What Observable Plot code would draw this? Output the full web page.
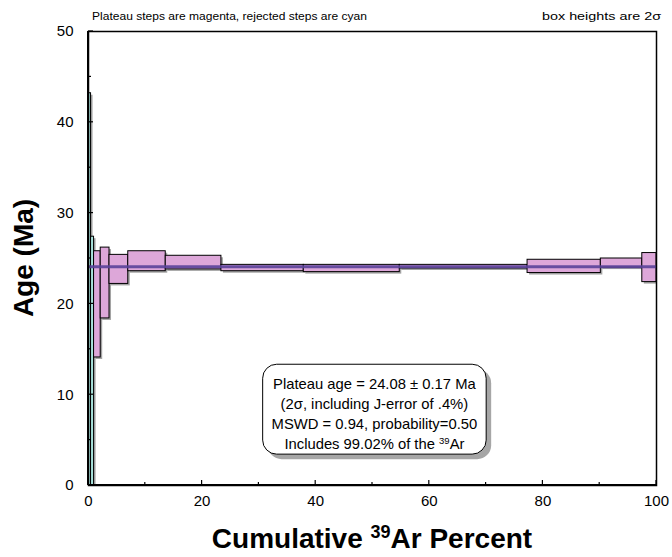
<!DOCTYPE html>
<html><head><meta charset="utf-8">
<script src="https://cdn.jsdelivr.net/npm/d3@7"></script>
<script src="https://cdn.jsdelivr.net/npm/@observablehq/plot@0.6"></script>
<style>body{margin:0;background:#fff}</style>
</head><body><div id="chart"></div>
<script>
// Step data: cumulative 39Ar % bounds, apparent age (Ma) and 2-sigma error
const cumStart = [0, 0.45, 0.98, 2.15, 3.7, 7.0, 13.6, 23.4, 37.9, 54.8, 77.3, 90.2, 97.5];
const cumEnd   = [0.45, 0.98, 2.15, 3.7, 7.0, 13.6, 23.4, 37.9, 54.8, 77.3, 90.2, 97.5, 100];
const ages     = [19.6, 12.2, 19.95, 22.3, 23.8, 24.7, 24.55, 23.95, 23.9, 24.1, 24.13, 24.5, 24.0];
const errs2s   = [23.6, 15.2, 5.85, 3.9, 1.6, 1.1, 0.75, 0.35, 0.4, 0.2, 0.73, 0.5, 1.6];
const status   = ["rejected","rejected","plateau","plateau","plateau","plateau","plateau","plateau","plateau","plateau","plateau","plateau","plateau"];
const plateauAge = 24.08;
const xTicks = [0, 20, 40, 60, 80, 100];
const xMinor = [10, 30, 50, 70, 90];
const yTicks = [0, 10, 20, 30, 40, 50];
const yMinor = [5, 15, 25, 35, 45];
const noteLines = ["Plateau age = 24.08 ± 0.17 Ma", "(2σ, including J-error of .4%)", "MSWD = 0.94, probability=0.50"];
const noteLast = ["Includes 99.02% of the ", "39", "Ar"];
const topLeftText = "Plateau steps are magenta, rejected steps are cyan";
const topRightText = "box heights are 2σ";

const colors = {plateau: "#dda7d9", rejected: "#a9e3dd"};
const steps = cumStart.map((s, i) => ({x1: s, x2: cumEnd[i], lo: ages[i] - errs2s[i], hi: ages[i] + errs2s[i], status: status[i]}));

const FONT = "'Liberation Sans', Arial, sans-serif";
const plot = Plot.plot({
  width: 672, height: 557,
  marginLeft: 88, marginRight: 16, marginTop: 31, marginBottom: 72,
  style: {fontFamily: FONT, fontSize: "14px", color: "#000", background: "#fff", overflow: "visible"},
  x: {domain: [0, 100], axis: null},
  y: {domain: [0, 50], axis: null},
  color: {type: "identity"},
  marks: [
    Plot.rect(steps, {x1: "x1", x2: "x2", y1: "lo", y2: "hi", fill: "#a3a3a3", dx: 2, dy: 2, clip: true}),
    Plot.rect(steps, {x1: "x1", x2: "x2", y1: "lo", y2: "hi", fill: d => colors[d.status], stroke: "#000", strokeWidth: 1, clip: true}),
    Plot.ruleY([plateauAge], {stroke: "#5a4299", strokeWidth: 3, strokeOpacity: 0.9}),
    Plot.frame({stroke: "#000", strokeWidth: 1.5}),
    Plot.text(xTicks, {x: d => d, text: d => String(d), frameAnchor: "bottom", lineAnchor: "top", dy: 10, fontSize: 15, fontFamily: FONT, fill: "#000"}),
    Plot.text(yTicks, {y: d => d, text: d => String(d), frameAnchor: "left", textAnchor: "end", dx: -15, fontSize: 15, fontFamily: FONT, fill: "#000"})
  ]
});

const svg = d3.select(plot);
const xs = plot.scale("x"), ys = plot.scale("y");
const X = v => xs.apply(v), Y = v => ys.apply(v);
const x0 = X(0), y0 = Y(0);

// inward ticks
const tg = svg.append("g").attr("stroke", "#000").attr("stroke-width", 1.2);
yTicks.forEach(v => tg.append("line").attr("x1", x0).attr("x2", x0 + 5).attr("y1", Y(v)).attr("y2", Y(v)));
yMinor.forEach(v => tg.append("line").attr("x1", x0).attr("x2", x0 + 3).attr("y1", Y(v)).attr("y2", Y(v)));
xTicks.forEach(v => tg.append("line").attr("x1", X(v)).attr("x2", X(v)).attr("y1", y0).attr("y2", y0 - 5));
xMinor.forEach(v => tg.append("line").attr("x1", X(v)).attr("x2", X(v)).attr("y1", y0).attr("y2", y0 - 3));
// thicker left/bottom axis lines
svg.append("line").attr("x1", x0).attr("x2", X(100)).attr("y1", y0).attr("y2", y0).attr("stroke", "#000").attr("stroke-width", 2);
svg.append("line").attr("x1", x0).attr("x2", x0).attr("y1", Y(50)).attr("y2", y0).attr("stroke", "#000").attr("stroke-width", 2);

// note box (positioned in data coordinates)
const nb = {x1: 30.75, x2: 70.1, y1: 3.4, y2: 13.3};
const bx = X(nb.x1), bw = X(nb.x2) - X(nb.x1), by = Y(nb.y2), bh = Y(nb.y1) - Y(nb.y2);
svg.append("rect").attr("x", bx + 5).attr("y", by + 5).attr("width", bw).attr("height", bh).attr("rx", 14).attr("fill", "#a6a6a6");
svg.append("rect").attr("x", bx).attr("y", by).attr("width", bw).attr("height", bh).attr("rx", 14).attr("fill", "#fff").attr("stroke", "#000").attr("stroke-width", 1);
const cx = bx + bw / 2;
noteLines.forEach((t, i) => svg.append("text").attr("x", cx).attr("y", by + 25 + i * 20).attr("text-anchor", "middle")
  .attr("font-family", FONT).attr("font-size", 14.8).text(t));
const last = svg.append("text").attr("x", cx).attr("y", by + 25 + 3 * 20).attr("text-anchor", "middle").attr("font-family", FONT).attr("font-size", 14.8);
last.append("tspan").text(noteLast[0]);
last.append("tspan").attr("font-size", 9.5).attr("dy", -5).text(noteLast[1]);
last.append("tspan").attr("dy", 5).text(noteLast[2]);

// top notes
svg.append("text").attr("x", 92).attr("y", 20).attr("text-anchor", "start").attr("font-family", FONT).attr("font-size", 11)
  .attr("textLength", 275).attr("lengthAdjust", "spacingAndGlyphs").text(topLeftText);
svg.append("text").attr("x", 542).attr("y", 20).attr("text-anchor", "start").attr("font-family", FONT).attr("font-size", 11)
  .attr("textLength", 119).attr("lengthAdjust", "spacingAndGlyphs").text(topRightText);

// axis titles
svg.append("text").attr("transform", `translate(33,${(Y(50) + y0) / 2}) rotate(-90)`).attr("text-anchor", "middle")
  .attr("font-family", FONT).attr("font-size", 28).attr("font-weight", "bold").text("Age (Ma)");
const xt = svg.append("text").attr("x", (x0 + X(100)) / 2).attr("y", 548).attr("text-anchor", "middle")
  .attr("font-family", FONT).attr("font-size", 28).attr("font-weight", "bold");
xt.append("tspan").text("Cumulative ");
xt.append("tspan").attr("font-size", 18).attr("dy", -10).text("39");
xt.append("tspan").attr("dy", 10).text("Ar Percent");

document.getElementById("chart").appendChild(plot);
</script>
</body></html>
